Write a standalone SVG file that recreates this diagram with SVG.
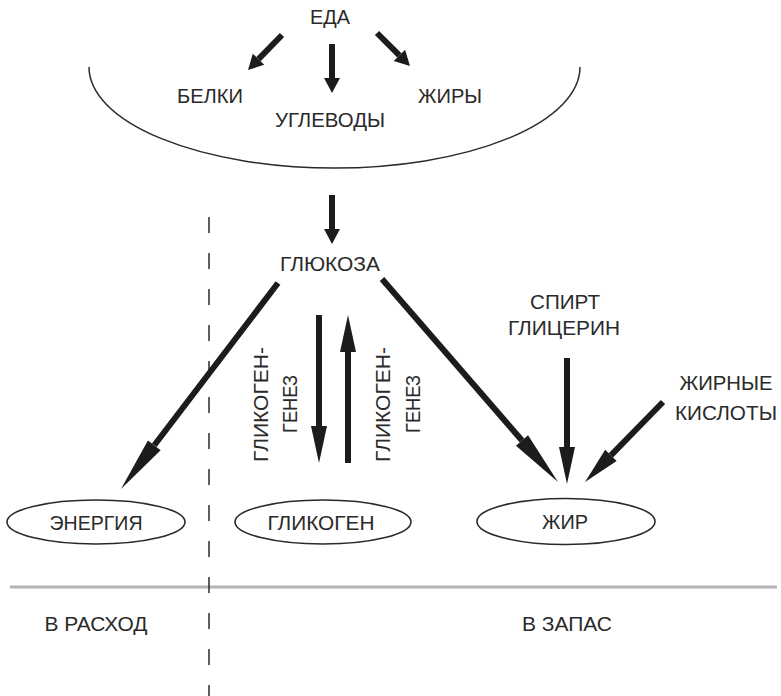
<svg xmlns="http://www.w3.org/2000/svg" width="781" height="696" viewBox="0 0 781 696">
<style>
text{font-family:"Liberation Sans","DejaVu Sans",sans-serif;font-size:21px;fill:#2a2a2a;text-anchor:middle}
.arr{stroke:#1c1c1c;stroke-width:6;fill:none}
.thin{stroke:#2a2a2a;stroke-width:1.5;fill:none}
.oval{stroke:#2a2a2a;stroke-width:1.6;fill:#fff}
</style>
<defs>
<marker id="hS" markerUnits="userSpaceOnUse" orient="auto" refX="0" refY="0" markerWidth="20" markerHeight="20" overflow="visible"><path d="M0,-8 L15,0 L0,8 z" fill="#1c1c1c"/></marker>
<marker id="hM" markerUnits="userSpaceOnUse" orient="auto" refX="0" refY="0" markerWidth="40" markerHeight="20" overflow="visible"><path d="M0,-8 L37,0 L0,8 z" fill="#1c1c1c"/></marker>
<marker id="hL" markerUnits="userSpaceOnUse" orient="auto" refX="0" refY="0" markerWidth="60" markerHeight="20" overflow="visible"><path d="M0,-8 L55,0 L0,8 z" fill="#1c1c1c"/></marker>
</defs>
<rect width="781" height="696" fill="#fff"/>
<g id="frame">
<path class="thin" d="M89,67 A245.5,101 0 0 0 580,67"/>
<line x1="10" y1="587" x2="777" y2="587" stroke="#b4b4b4" stroke-width="3"/>
<line x1="209" y1="217" x2="209" y2="696" stroke="#2a2a2a" stroke-width="1.5" stroke-dasharray="16 20"/>
</g>
<g id="connectors">
<line class="arr" x1="282" y1="35" x2="258.5" y2="59.2" marker-end="url(#hS)"/>
<line class="arr" x1="332" y1="44" x2="332" y2="78" marker-end="url(#hS)"/>
<line class="arr" x1="377" y1="33" x2="399.4" y2="55.4" marker-end="url(#hS)"/>
<line class="arr" x1="332" y1="195" x2="332" y2="229" marker-end="url(#hS)"/>
<line class="arr" x1="278" y1="283" x2="154.3" y2="445.3" marker-end="url(#hL)"/>
<line class="arr" x1="382" y1="279" x2="522" y2="440.5" marker-end="url(#hL)"/>
<line class="arr" x1="319" y1="315" x2="319" y2="426" marker-end="url(#hM)"/>
<line class="arr" x1="348" y1="463" x2="348" y2="352" marker-end="url(#hM)"/>
<line class="arr" x1="567" y1="358" x2="567" y2="447" marker-end="url(#hM)"/>
<line class="arr" x1="663" y1="402" x2="610.9" y2="455.4" marker-end="url(#hM)"/>
</g>
<g id="eda"><text x="330" y="24" textLength="40" lengthAdjust="spacingAndGlyphs">ЕДА</text></g>
<g id="belki"><text x="210" y="103" textLength="66" lengthAdjust="spacingAndGlyphs">БЕЛКИ</text></g>
<g id="uglevody"><text x="330" y="127" textLength="110" lengthAdjust="spacingAndGlyphs">УГЛЕВОДЫ</text></g>
<g id="zhiry"><text x="450" y="103" textLength="64" lengthAdjust="spacingAndGlyphs">ЖИРЫ</text></g>
<g id="glukoza"><text x="330" y="271" textLength="100" lengthAdjust="spacingAndGlyphs">ГЛЮКОЗА</text></g>
<g id="spirt"><text x="565" y="309" textLength="70" lengthAdjust="spacingAndGlyphs">СПИРТ</text><text x="564" y="335" textLength="112" lengthAdjust="spacingAndGlyphs">ГЛИЦЕРИН</text></g>
<g id="kisloty"><text x="726" y="390" textLength="93" lengthAdjust="spacingAndGlyphs">ЖИРНЫЕ</text><text x="726" y="420" textLength="102" lengthAdjust="spacingAndGlyphs">КИСЛОТЫ</text></g>
<g id="glikogenez1"><text transform="translate(268,404.5) rotate(-90)" textLength="115" lengthAdjust="spacingAndGlyphs">ГЛИКОГЕН-</text><text transform="translate(297,404) rotate(-90)" textLength="58" lengthAdjust="spacingAndGlyphs">ГЕНЕЗ</text></g>
<g id="glikogenez2"><text transform="translate(390,404.5) rotate(-90)" textLength="115" lengthAdjust="spacingAndGlyphs">ГЛИКОГЕН-</text><text transform="translate(420,404) rotate(-90)" textLength="58" lengthAdjust="spacingAndGlyphs">ГЕНЕЗ</text></g>
<g id="energiya"><ellipse class="oval" cx="96" cy="522" rx="89" ry="22"/><text x="96" y="530" textLength="93" lengthAdjust="spacingAndGlyphs">ЭНЕРГИЯ</text></g>
<g id="glikogen"><ellipse class="oval" cx="323" cy="522" rx="88" ry="22"/><text x="321" y="530" textLength="107" lengthAdjust="spacingAndGlyphs">ГЛИКОГЕН</text></g>
<g id="zhir"><ellipse class="oval" cx="566" cy="521.5" rx="89" ry="23"/><text x="565" y="529" textLength="46" lengthAdjust="spacingAndGlyphs">ЖИР</text></g>
<g id="rashod"><text x="96" y="631" textLength="103" lengthAdjust="spacingAndGlyphs">В РАСХОД</text></g>
<g id="zapas"><text x="567" y="631" textLength="90" lengthAdjust="spacingAndGlyphs">В ЗАПАС</text></g>
</svg>
